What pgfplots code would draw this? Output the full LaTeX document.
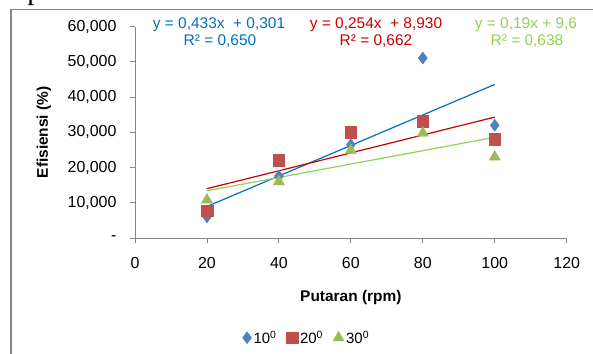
\documentclass[border=0pt]{standalone}
\usepackage{pgfplots}
\pgfplotsset{compat=1.18}
\usepackage{fontspec}
\setmainfont{Liberation Sans}
\newfontfamily\seriffont{Liberation Serif}
\definecolor{mblue}{RGB}{79,129,189}
\definecolor{mred}{RGB}{192,80,77}
\definecolor{mgreen}{RGB}{155,187,89}
\definecolor{lblue}{RGB}{0,112,192}
\definecolor{lred}{RGB}{200,0,0}
\definecolor{lgreen}{RGB}{146,208,80}
\definecolor{axgray}{RGB}{134,134,134}
\begin{document}
\begin{tikzpicture}[x=1bp,y=1bp]
\useasboundingbox (0,0) rectangle (593,353);
\begin{scope}
\clip (0,0) rectangle (593,353);
\draw[axgray, line width=1.3bp] (11,343.5) rectangle (640,-40);
\node[anchor=base west, inner sep=0pt, font=\seriffont\fontsize{29}{31}\selectfont] at (0,353.3) {dependuda tabok.};
\end{scope}
\begin{axis}[
  at={(135bp,115bp)}, anchor=south west,
  scale only axis, width=431.7bp, height=211.3bp,
  xmin=0, xmax=120, ymin=0, ymax=60,
  axis x line*=bottom, axis y line*=left,
  axis line style={draw=axgray, line width=0.9bp},
  tick style={draw=axgray, line width=0.9bp},
  tick align=outside, major tick length=5bp,
  xtick={0,20,40,60,80,100,120},
  xticklabels={0,20,40,60,80,100,120},
  ytick={0,10,20,30,40,50,60},
  yticklabels={{-},{10,000},{20,000},{30,000},{40,000},{50,000},{60,000}},
  xticklabel style={font=\fontsize{16}{18}\selectfont, yshift=-11bp},
  yticklabel style={font=\fontsize{16}{18}\selectfont, xshift=-10bp},
  xlabel={\textbf{Putaran (rpm)}},
  ylabel={\textbf{Efisiensi (\%)}},
  label style={font=\fontsize{15.5}{18}\selectfont},
  xlabel style={at={(axis description cs:0.5,-0.283)}, anchor=center},
  ylabel style={at={(axis description cs:-0.211,0.5)}, anchor=center},
  legend columns=3,
  legend style={at={(axis description cs:0.398,-0.472)}, anchor=center, draw=none, fill=none,
    font=\fontsize{15}{18}\selectfont, /tikz/every even column/.append style={column sep=8bp}},
  legend cell align=left,
  clip=false,
]
\addplot[only marks, mark=diamond*, mark size=6, mark options={fill=mblue, draw=mblue}]
  coordinates {(20,6.0) (40,17.6) (60,26.5) (80,51.1) (100,32.0)};
\addlegendentry{10\textsuperscript{0}}
\addplot[only marks, mark=square*, mark size=5.8, mark options={fill=mred, draw=mred}]
  coordinates {(20,7.8) (40,22.1) (60,30.1) (80,33.2) (100,28.0)};
\addlegendentry{20\textsuperscript{0}}
\addplot[only marks, mark=triangle*, mark size=6.5, mark options={fill=mgreen, draw=mgreen}]
  coordinates {(20,10.8) (40,16.0) (60,24.9) (80,29.8) (100,23.0)};
\addlegendentry{30\textsuperscript{0}}
\addplot[forget plot, lblue, line width=1.2bp] coordinates {(20,8.961) (100,43.601)};
\addplot[forget plot, lred, line width=1.2bp] coordinates {(20,14.01) (100,34.33)};
\addplot[forget plot, lgreen, line width=1.2bp] coordinates {(20,13.4) (100,28.6)};
\end{axis}
\begin{scope}[font=\fontsize{15.5}{18}\selectfont]
\node[anchor=base, lblue, inner sep=0pt] at (219,325) {y = 0,433x \ + 0,301};
\node[anchor=base, lblue, inner sep=0pt] at (220,308) {R² = 0,650};
\node[anchor=base, lred, inner sep=0pt] at (376,325) {y = 0,254x \ + 8,930};
\node[anchor=base, lred, inner sep=0pt] at (376,308) {R² = 0,662};
\node[anchor=base, lgreen, inner sep=0pt] at (526,325) {y = 0,19x + 9,6};
\node[anchor=base, lgreen, inner sep=0pt] at (527,308) {R² = 0,638};
\end{scope}
\end{tikzpicture}
\end{document}
